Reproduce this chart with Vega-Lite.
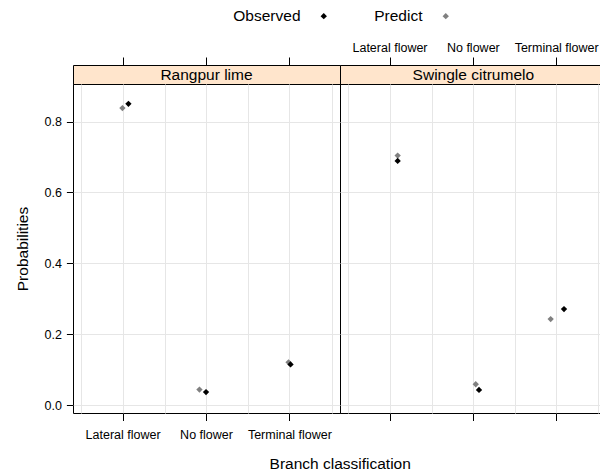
{
  "$schema": "https://vega.github.io/schema/vega-lite/v6.json",
  "padding": {"left": 14, "top": 8, "right": 0, "bottom": 0},
  "autosize": {"type": "pad"},
  "datasets": {
    "pts": [
      {"panel": "Rangpur lime", "class": "Lateral flower", "series": "Predict", "prob": 0.838, "jitter": -0.007},
      {"panel": "Rangpur lime", "class": "No flower", "series": "Predict", "prob": 0.044, "jitter": -0.084},
      {"panel": "Rangpur lime", "class": "Terminal flower", "series": "Predict", "prob": 0.121, "jitter": -0.016},
      {"panel": "Swingle citrumelo", "class": "Lateral flower", "series": "Predict", "prob": 0.704, "jitter": 0.092},
      {"panel": "Swingle citrumelo", "class": "No flower", "series": "Predict", "prob": 0.059, "jitter": 0.029},
      {"panel": "Swingle citrumelo", "class": "Terminal flower", "series": "Predict", "prob": 0.243, "jitter": -0.072},
      {"panel": "Rangpur lime", "class": "Lateral flower", "series": "Observed", "prob": 0.85, "jitter": 0.065},
      {"panel": "Rangpur lime", "class": "No flower", "series": "Observed", "prob": 0.037, "jitter": -0.005},
      {"panel": "Rangpur lime", "class": "Terminal flower", "series": "Observed", "prob": 0.115, "jitter": 0.008},
      {"panel": "Swingle citrumelo", "class": "Lateral flower", "series": "Observed", "prob": 0.689, "jitter": 0.092},
      {"panel": "Swingle citrumelo", "class": "No flower", "series": "Observed", "prob": 0.043, "jitter": 0.068},
      {"panel": "Swingle citrumelo", "class": "Terminal flower", "series": "Observed", "prob": 0.271, "jitter": 0.088}
    ],
    "strips": [
      {"panel": "Rangpur lime"},
      {"panel": "Swingle citrumelo"}
    ]
  },
  "columns": 2,
  "spacing": 0,
  "bounds": "flush",
  "align": "each",
  "resolve": {"scale": {"color": "shared"}, "legend": {"color": "shared"}},
  "concat": [
    {
      "width": 267, "height": 19,
      "view": {"fill": "#FFE5CC", "stroke": "black"},
      "data": {"name": "strips"},
      "transform": [{"filter": "datum.panel === 'Rangpur lime'"}],
      "mark": {"type": "text", "fontSize": 15.5, "color": "black"},
      "encoding": {
        "x": {"datum": "No flower", "type": "nominal",
              "scale": {"type": "band", "domain": ["Lateral flower", "No flower", "Terminal flower"], "paddingInner": 0, "paddingOuter": 0.1},
              "axis": {"orient": "top", "labels": false, "tickSize": 8, "grid": false, "domain": false, "title": null}},
        "text": {"field": "panel"}
      }
    },
    {
      "width": 260, "height": 19,
      "view": {"fill": "#FFE5CC", "stroke": "black"},
      "data": {"name": "strips"},
      "transform": [{"filter": "datum.panel === 'Swingle citrumelo'"}],
      "mark": {"type": "text", "fontSize": 15.5, "color": "black"},
      "encoding": {
        "x": {"datum": "No flower", "type": "nominal",
              "scale": {"type": "band", "domain": ["Lateral flower", "No flower", "Terminal flower"], "paddingInner": 0, "paddingOuter": 0.1, "range": [0, 266.67]},
              "axis": {"orient": "top", "labels": true, "labelAngle": 0, "labelPadding": 3, "tickSize": 8, "grid": false, "domain": false, "title": null}},
        "text": {"field": "panel"}
      }
    },
    {
      "width": 267, "height": 329,
      "data": {"name": "pts"},
      "transform": [{"filter": "datum.panel === 'Rangpur lime'"}],
      "layer": [
        {
          "transform": [{"filter": "datum.series === 'Predict'"}],
          "mark": {"type": "point", "shape": "diamond", "filled": true, "size": 40, "opacity": 1},
          "encoding": {
            "x": {"field": "class", "type": "nominal",
                  "scale": {"type": "band", "domain": ["Lateral flower", "No flower", "Terminal flower"], "paddingInner": 0, "paddingOuter": 0.1},
                  "axis": {"orient": "bottom", "title": "Branch classification", "titleX": 266.7, "titleY": 50, "titleAlign": "center", "titleBaseline": "middle", "labelAngle": 0, "tickSize": 7.5, "labelPadding": 8, "grid": true, "domain": false}},
            "xOffset": {"field": "jitter", "type": "quantitative", "scale": {"domain": [-0.5, 0.5], "range": [0, 83.33]}},
            "y": {"field": "prob", "type": "quantitative",
                  "scale": {"domain": [-0.022, 0.906], "nice": false, "zero": false},
                  "axis": {"values": [0, 0.2, 0.4, 0.6, 0.8], "format": ".1f", "title": "Probabilities", "tickSize": 6.6, "labelPadding": 5, "titlePadding": 14, "grid": true, "domain": false}},
            "color": {"field": "series", "type": "nominal",
                      "scale": {"domain": ["Observed", "Predict"], "range": ["#000000", "#808080"]},
                      "legend": {"title": null, "orient": "none", "legendX": 243, "legendY": -57, "direction": "horizontal", "labelFontSize": 15.5, "labelColor": "black", "labelAlign": "right", "labelOffset": -31, "symbolType": "diamond", "symbolSize": 40, "symbolStrokeWidth": 0, "columnPadding": 47}}
          }
        },
        {
          "transform": [{"filter": "datum.series === 'Observed'"}],
          "mark": {"type": "point", "shape": "diamond", "filled": true, "size": 40, "opacity": 1},
          "encoding": {
            "x": {"field": "class", "type": "nominal",
                  "scale": {"type": "band", "domain": ["Lateral flower", "No flower", "Terminal flower"], "paddingInner": 0, "paddingOuter": 0.1},
                  "axis": {"orient": "top", "tickBand": "extent", "grid": true, "ticks": false, "labels": false, "domain": false, "title": null}},
            "xOffset": {"field": "jitter", "type": "quantitative", "scale": {"domain": [-0.5, 0.5], "range": [0, 83.33]}},
            "y": {"field": "prob", "type": "quantitative"},
            "color": {"field": "series", "type": "nominal"}
          }
        }
      ],
      "resolve": {"axis": {"x": "independent"}}
    },
    {
      "width": 260, "height": 329,
      "data": {"name": "pts"},
      "transform": [{"filter": "datum.panel === 'Swingle citrumelo'"}],
      "layer": [
        {
          "transform": [{"filter": "datum.series === 'Predict'"}],
          "mark": {"type": "point", "shape": "diamond", "filled": true, "size": 40, "opacity": 1},
          "encoding": {
            "x": {"field": "class", "type": "nominal",
                  "scale": {"type": "band", "domain": ["Lateral flower", "No flower", "Terminal flower"], "paddingInner": 0, "paddingOuter": 0.1, "range": [0, 266.67]},
                  "axis": {"orient": "bottom", "title": null, "labels": false, "tickSize": 7.5, "grid": true, "domain": false}},
            "xOffset": {"field": "jitter", "type": "quantitative", "scale": {"domain": [-0.5, 0.5], "range": [0, 83.33]}},
            "y": {"field": "prob", "type": "quantitative",
                  "scale": {"domain": [-0.022, 0.906], "nice": false, "zero": false},
                  "axis": {"values": [0, 0.2, 0.4, 0.6, 0.8], "title": null, "labels": false, "ticks": false, "grid": true, "domain": false}},
            "color": {"field": "series", "type": "nominal"}
          }
        },
        {
          "transform": [{"filter": "datum.series === 'Observed'"}],
          "mark": {"type": "point", "shape": "diamond", "filled": true, "size": 40, "opacity": 1},
          "encoding": {
            "x": {"field": "class", "type": "nominal",
                  "scale": {"type": "band", "domain": ["Lateral flower", "No flower", "Terminal flower"], "paddingInner": 0, "paddingOuter": 0.1, "range": [0, 266.67]},
                  "axis": {"orient": "top", "tickBand": "extent", "grid": true, "ticks": false, "labels": false, "domain": false, "title": null}},
            "xOffset": {"field": "jitter", "type": "quantitative", "scale": {"domain": [-0.5, 0.5], "range": [0, 83.33]}},
            "y": {"field": "prob", "type": "quantitative"},
            "color": {"field": "series", "type": "nominal"}
          }
        }
      ],
      "resolve": {"axis": {"x": "independent"}}
    }
  ],
  "config": {
    "font": "Liberation Sans",
    "view": {"stroke": "black", "strokeWidth": 1},
    "axis": {"labelColor": "black", "titleColor": "black", "tickColor": "black", "gridColor": "#e6e6e6", "labelFontSize": 12.5, "titleFontSize": 15.5, "titleFontWeight": "normal", "domain": false},
    "legend": {"labelFont": "Liberation Sans"}
  }
}
